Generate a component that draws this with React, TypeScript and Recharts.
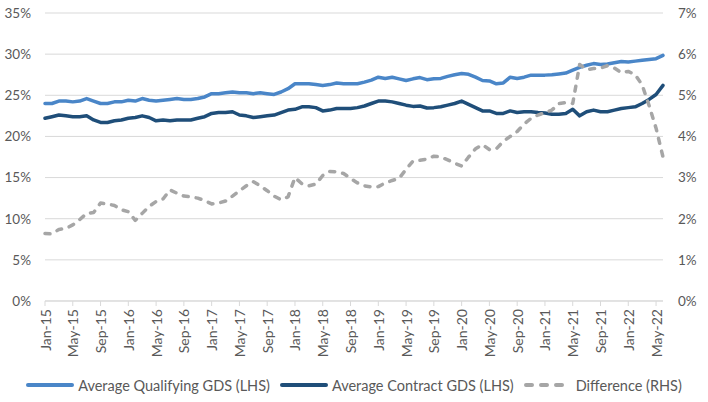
import { LineChart, Line, XAxis, YAxis, CartesianGrid, Legend } from "recharts";

const MONTH_NAMES = ["Jan", "Feb", "Mar", "Apr", "May", "Jun", "Jul", "Aug", "Sep", "Oct", "Nov", "Dec"];
// Jan-15 .. Jun-22, monthly
const MONTHS = Array.from({ length: 90 }, (_, i) => `${MONTH_NAMES[i % 12]}-${15 + Math.floor(i / 12)}`);

// Average Qualifying GDS, % (LHS)
const QUALIFYING = [
  24.0, 24.0, 24.3, 24.3, 24.2, 24.3, 24.6, 24.3, 24.0, 24.0,
  24.2, 24.2, 24.4, 24.3, 24.6, 24.4, 24.3, 24.4, 24.5, 24.6,
  24.5, 24.5, 24.6, 24.8, 25.2, 25.2, 25.3, 25.4, 25.3, 25.3,
  25.2, 25.3, 25.2, 25.1, 25.4, 25.8, 26.4, 26.4, 26.4, 26.3,
  26.2, 26.3, 26.5, 26.4, 26.4, 26.4, 26.6, 26.85, 27.2, 27.05,
  27.2, 27.0, 26.8, 27.0, 27.15, 26.9, 27.0, 27.05, 27.3, 27.5,
  27.65, 27.55, 27.2, 26.8, 26.75, 26.4, 26.5, 27.2, 27.05, 27.2,
  27.45, 27.45, 27.45, 27.5, 27.6, 27.7, 28.05, 28.4, 28.65, 28.85,
  28.75, 28.8, 28.95, 29.1, 29.05, 29.15, 29.25, 29.35, 29.45, 29.85,
];

// Average Contract GDS, % (LHS)
const CONTRACT = [
  22.2, 22.4, 22.6, 22.5, 22.4, 22.4, 22.5, 22.0, 21.7, 21.7,
  21.9, 22.0, 22.2, 22.3, 22.5, 22.3, 21.9, 22.0, 21.9, 22.0,
  22.0, 22.0, 22.2, 22.4, 22.8, 22.9, 22.9, 23.0, 22.6, 22.5,
  22.3, 22.4, 22.5, 22.6, 22.9, 23.2, 23.3, 23.6, 23.6, 23.5,
  23.1, 23.2, 23.4, 23.4, 23.4, 23.5, 23.7, 24.0, 24.3, 24.3,
  24.2, 24.0, 23.8, 23.65, 23.7, 23.45, 23.5, 23.6, 23.8, 24.0,
  24.3, 23.9, 23.5, 23.1, 23.1, 22.8, 22.8, 23.1, 22.9, 23.0,
  23.0, 22.9, 22.85, 22.7, 22.7, 22.8, 23.3, 22.5, 23.0, 23.2,
  23.0, 23.0, 23.2, 23.4, 23.5, 23.6, 24.0, 24.5, 25.1, 26.2,
];

// Difference, % (RHS)
const DIFFERENCE = [
  1.64, 1.63, 1.74, 1.76, 1.85, 1.98, 2.13, 2.15, 2.38, 2.36,
  2.32, 2.22, 2.17, 1.96, 2.13, 2.3, 2.42, 2.48, 2.7, 2.62,
  2.55, 2.53, 2.5, 2.44, 2.36, 2.38, 2.43, 2.55, 2.68, 2.8,
  2.9, 2.8, 2.68, 2.55, 2.46, 2.53, 3.0, 2.85, 2.8, 2.84,
  3.05, 3.15, 3.14, 3.1, 2.98, 2.87, 2.8, 2.77, 2.78, 2.87,
  2.93, 2.98, 3.2, 3.4, 3.42, 3.45, 3.52, 3.5, 3.43, 3.35,
  3.28, 3.5, 3.7, 3.8, 3.68, 3.7, 3.88, 4.0, 4.12, 4.3,
  4.44, 4.52, 4.58, 4.64, 4.8, 4.82, 4.8, 5.75, 5.62, 5.65,
  5.66, 5.72, 5.66, 5.55, 5.58, 5.5, 5.25, 4.75, 4.2, 3.5,
];

const LEFT_TICKS = [0, 5, 10, 15, 20, 25, 30, 35];
const RIGHT_TICKS = [0, 1, 2, 3, 4, 5, 6, 7];

const FONT = "Lato, 'Liberation Sans', sans-serif";
const TEXT = "#595959";
const GRID = "#d9d9d9";

const SERIES = [
  { key: "qualifying", label: "Average Qualifying GDS (LHS)", color: "#4a86c8", dashed: false },
  { key: "contract", label: "Average Contract GDS (LHS)", color: "#1f4e79", dashed: false },
  { key: "difference", label: "Difference (RHS)", color: "#a6a6a6", dashed: true },
];

const data = MONTHS.map((month, i) => ({
  month,
  qualifying: QUALIFYING[i],
  contract: CONTRACT[i],
  difference: DIFFERENCE[i],
}));

function MonthTick({ x, y, payload }: any) {
  return (
    <text
      x={x}
      y={y}
      transform={`rotate(-90, ${x}, ${y})`}
      textAnchor="end"
      dominantBaseline="central"
      fill={TEXT}
      fontSize={14}
      fontFamily={FONT}
    >
      {payload.value}
    </text>
  );
}

function LegendBox() {
  return (
    <div style={{ display: "flex", justifyContent: "center", alignItems: "center", height: 34, fontFamily: FONT, fontSize: 14.5, color: TEXT }}>
      {SERIES.map(s => (
        <div key={s.key} style={{ display: "flex", alignItems: "center", margin: "0 5px" }}>
          <svg width={48} height={8}>
            <line x1={2} y1={4} x2={46} y2={4} stroke={s.color} strokeWidth={4}
              strokeLinecap="round" strokeDasharray={s.dashed ? "6 9" : undefined} />
          </svg>
          <span style={{ marginLeft: 4 }}>{s.label}</span>
        </div>
      ))}
    </div>
  );
}

export default function App() {
  return (
    <div style={{ position: "absolute", left: 0, top: 0, background: "#fff" }}>
      <LineChart width={708} height={402} data={data} margin={{ top: 13, right: 0, bottom: 0, left: 0 }}>
        <CartesianGrid yAxisId="left" vertical={false} stroke={GRID} strokeWidth={1} />
        <XAxis dataKey="month" interval={3} tickSize={5} tickMargin={3} height={67}
          axisLine={{ stroke: GRID }} tickLine={{ stroke: GRID }} tick={<MonthTick />} />
        <YAxis yAxisId="left" domain={[0, 35]} ticks={LEFT_TICKS} width={45} axisLine={false} tickLine={false}
          tickMargin={8} tickFormatter={v => `${v}%`} tick={{ fontSize: 13.5, fill: TEXT, fontFamily: FONT }} />
        <YAxis yAxisId="right" orientation="right" domain={[0, 7]} ticks={RIGHT_TICKS} width={45} axisLine={false}
          tickLine={false} tickMargin={9} tickFormatter={v => `${v}%`} tick={{ fontSize: 13.5, fill: TEXT, fontFamily: FONT }} />
        <Legend verticalAlign="bottom" height={34} content={<LegendBox />} />
        <Line yAxisId="left" dataKey="qualifying" stroke="#4a86c8" strokeWidth={3.5} dot={false}
          strokeLinejoin="round" strokeLinecap="round" isAnimationActive={false} />
        <Line yAxisId="left" dataKey="contract" stroke="#1f4e79" strokeWidth={3.5} dot={false}
          strokeLinejoin="round" strokeLinecap="round" isAnimationActive={false} />
        <Line yAxisId="right" dataKey="difference" stroke="#a6a6a6" strokeWidth={3.5} dot={false}
          strokeDasharray="5 8" strokeLinejoin="round" strokeLinecap="round" isAnimationActive={false} />
      </LineChart>
    </div>
  );
}
